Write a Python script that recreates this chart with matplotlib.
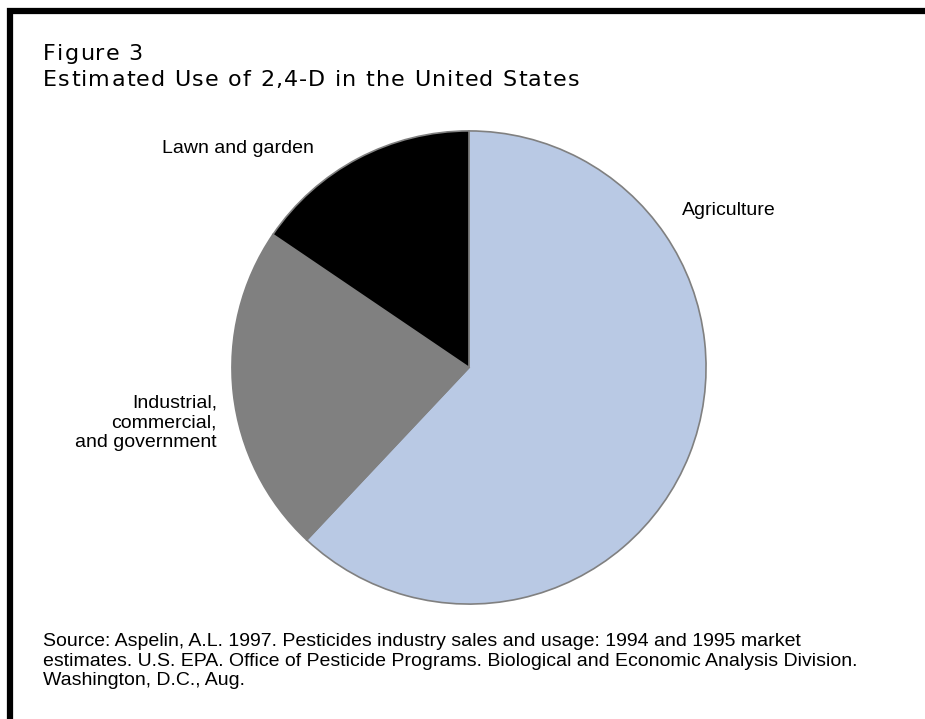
import matplotlib
matplotlib.use('Agg')
import matplotlib.pyplot as plt
from matplotlib.patches import Rectangle
from matplotlib.font_manager import FontProperties, findfont, get_font

plt.rcParams['font.family'] = ['Liberation Sans', 'DejaVu Sans']

# slice shares (clockwise from 12 o'clock)
categories = ['Agriculture', 'Industrial, commercial, and government', 'Lawn and garden']
shares = [62.0, 22.5, 15.5]
colors = ['#B9C9E4', '#808080', '#000000']

title_lines = ['Figure 3', 'Estimated Use of 2,4-D in the United States']
source = ('Source: Aspelin, A.L. 1997. Pesticides industry sales and usage: 1994 and 1995 market\n'
          'estimates. U.S. EPA. Office of Pesticide Programs. Biological and Economic Analysis Division.\n'
          'Washington, D.C., Aug.')

W, H = 925, 719
fig = plt.figure(figsize=(W / 100, H / 100), dpi=100)


def fx(px):
    return px / W


def fy(py):
    return 1 - py / H


# pie area (light cream background)
ax = fig.add_axes([fx(220), fy(616), fx(718) - fx(220), fy(119) - fy(616)])
ax.set_facecolor('#FFFFF0')
ax.pie(shares, colors=colors, startangle=90, counterclock=False, radius=0.952,
       wedgeprops={'edgecolor': '#808080', 'linewidth': 1.2})
ax.set_xlim(-1, 1)
ax.set_ylim(-1, 1)
ax.set_aspect('auto')
ax.set_xticks([])
ax.set_yticks([])
for s in ax.spines.values():
    s.set_visible(False)
ax.set_axis_on()

# slice labels
fs = 14
fig.text(fx(162), fy(153), 'Lawn and garden', fontsize=fs, va='baseline', ha='left')
fig.text(fx(682), fy(215), 'Agriculture', fontsize=fs, va='baseline', ha='left')
fig.text(fx(217), fy(395), 'Industrial,\ncommercial,\nand government', fontsize=fs,
         va='top', ha='right', multialignment='right', linespacing=1.2)

# title, drawn with a little extra letter spacing like the original
tprop = FontProperties(family='DejaVu Sans', size=16)
tfont = get_font(findfont(tprop))
tfont.set_size(16, 100)


def spaced_text(x, y, s, track=1.2):
    for ch in s:
        fig.text(fx(x), fy(y), ch, fontproperties=tprop, va='baseline', ha='left')
        g = tfont.load_char(ord(ch))
        x += g.linearHoriAdvance / 65536 + track


spaced_text(43, 60, title_lines[0])
spaced_text(43, 86, title_lines[1])

# source note
fig.text(fx(43), fy(633), source, fontsize=fs, va='top', ha='left', linespacing=1.2)

# black frame (top and left edges visible)
fig.add_artist(Rectangle((fx(10), -0.2), 1.3, fy(11) + 0.2, transform=fig.transFigure,
                         fill=False, edgecolor='black', linewidth=4.5))

fig.savefig('out.png', dpi=100)
